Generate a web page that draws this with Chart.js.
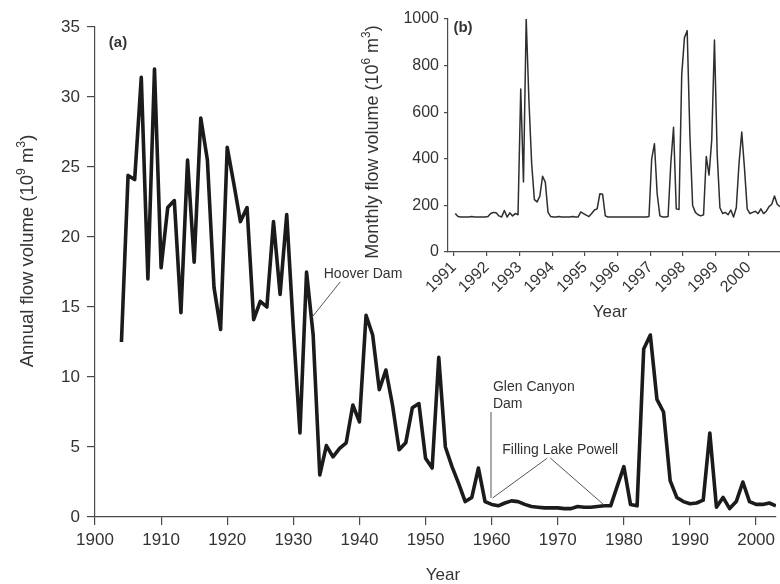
<!DOCTYPE html>
<html>
<head>
<meta charset="utf-8">
<script src="https://cdn.jsdelivr.net/npm/chart.js@4.4.1/dist/chart.umd.min.js"></script>
<style>
  html, body { margin: 0; padding: 0; background: #fff; }
  #wrap { position: relative; width: 780px; height: 584px; }
  #main { position: absolute; left: 0; top: 0; }
  #inset { position: absolute; left: 340px; top: 0; }
</style>
</head>
<body>
<div id="wrap">
  <canvas id="main" width="780" height="584"></canvas>
  <canvas id="inset" width="440" height="330"></canvas>
</div>
<script>
// (a) annual flow volume, 10^9 m^3, one value per year from FIRST_YEAR
const FIRST_YEAR = 1904;
const ANNUAL_FLOW = [
  12.5, 24.4, 24.1, 31.4, 17.0, 32.0, 17.8, 22.1, 22.6, 14.6,   // 1904-1913
  25.5, 18.2, 28.5, 25.5, 16.4, 13.4, 26.4, 23.8, 21.1, 22.1,   // 1914-1923
  14.1, 15.4, 15.0, 21.1, 15.9, 21.6, 13.5, 6.0, 17.5, 13.0,    // 1924-1933
  3.0, 5.1, 4.3, 4.9, 5.3, 8.0, 6.8, 14.4, 13.0, 9.1,           // 1934-1943
  10.5, 8.0, 4.8, 5.3, 7.8, 8.1, 4.2, 3.5, 11.4, 5.0,           // 1944-1953
  3.6, 2.4, 1.1, 1.4, 3.5, 1.1, 0.9, 0.8, 1.0, 1.15,            // 1954-1963
  1.1, 0.9, 0.75, 0.7, 0.65, 0.65, 0.65, 0.6, 0.6, 0.75,        // 1964-1973
  0.7, 0.7, 0.75, 0.8, 0.8, 2.2, 3.6, 0.9, 0.8, 12.0,           // 1974-1983
  13.0, 8.4, 7.5, 2.6, 1.4, 1.1, 0.95, 1.0, 1.2, 6.0,           // 1984-1993
  0.7, 1.4, 0.6, 1.1, 2.5, 1.1, 0.9, 0.9, 1.0, 0.8              // 1994-2003
];
const MAIN_X_TICKS = [1900, 1910, 1920, 1930, 1940, 1950, 1960, 1970, 1980, 1990, 2000];
const MAIN_Y_TICKS = [0, 5, 10, 15, 20, 25, 30, 35];

// (b) monthly flow volume, 10^6 m^3, Jan..Dec
const MONTHLY_1991 = [165, 152, 150, 150, 150, 150, 152, 150, 150, 150, 150, 150];
const MONTHLY_1992 = [152, 165, 170, 168, 155, 150, 178, 150, 168, 155, 165, 160];
const MONTHLY_1993 = [700, 300, 1000, 650, 380, 225, 215, 240, 325, 300, 170, 152];
const MONTHLY_1994 = [150, 150, 152, 150, 150, 150, 150, 152, 150, 150, 172, 165];
const MONTHLY_1995 = [158, 152, 165, 180, 185, 250, 248, 155, 150, 150, 150, 150];
const MONTHLY_1996 = [150, 150, 150, 150, 150, 150, 150, 150, 150, 150, 150, 152];
const MONTHLY_1997 = [400, 465, 250, 155, 150, 150, 152, 380, 535, 185, 182, 760];
const MONTHLY_1998 = [920, 950, 500, 200, 170, 160, 155, 160, 410, 330, 480, 910];
const MONTHLY_1999 = [420, 190, 165, 170, 160, 180, 150, 190, 380, 515, 360, 185];
const MONTHLY_2000 = [165, 170, 175, 165, 185, 165, 175, 195, 205, 240, 205, 195];
const MONTHLY_YEARS = [1991, 1992, 1993, 1994, 1995, 1996, 1997, 1998, 1999, 2000];
const MONTHLY_ROWS = [MONTHLY_1991, MONTHLY_1992, MONTHLY_1993, MONTHLY_1994, MONTHLY_1995,
  MONTHLY_1996, MONTHLY_1997, MONTHLY_1998, MONTHLY_1999, MONTHLY_2000];
const INSET_X_TICKS = [1991, 1992, 1993, 1994, 1995, 1996, 1997, 1998, 1999, 2000];
const INSET_Y_TICKS = [0, 200, 400, 600, 800, 1000];

const FONT = '"Liberation Sans", Arial, Helvetica, sans-serif';
const TEXT_COLOR = '#333';
const AXIS_COLOR = '#4a4a4a';

// text with superscripts, centred on (x, y), optionally rotated
function drawRich(ctx, parts, x, y, size, angle) {
  const supSize = size * 0.66;
  ctx.save();
  ctx.translate(x, y);
  ctx.rotate(angle);
  ctx.fillStyle = TEXT_COLOR;
  ctx.textAlign = 'left';
  ctx.textBaseline = 'alphabetic';
  let total = 0;
  const widths = parts.map((p) => {
    ctx.font = `${p.sup ? supSize : size}px ${FONT}`;
    const w = ctx.measureText(p.text).width;
    total += w;
    return w;
  });
  let cx = -total / 2;
  parts.forEach((p, i) => {
    ctx.font = `${p.sup ? supSize : size}px ${FONT}`;
    ctx.fillText(p.text, cx, p.sup ? size * 0.35 - size * 0.45 : size * 0.35);
    cx += widths[i];
  });
  ctx.restore();
}

function drawText(ctx, text, x, y, font, align = 'left') {
  ctx.save();
  ctx.font = font;
  ctx.fillStyle = TEXT_COLOR;
  ctx.textAlign = align;
  ctx.textBaseline = 'middle';
  ctx.fillText(text, x, y);
  ctx.restore();
}

function fixedTicks(list) {
  return (scale) => { scale.ticks = list.map((v) => ({ value: v })); };
}

function axis(opts) {
  return {
    type: 'linear',
    min: opts.min,
    max: opts.max,
    afterBuildTicks: fixedTicks(opts.ticks),
    afterFit: opts.fit,
    ticks: {
      color: TEXT_COLOR,
      font: { family: FONT, size: opts.fontSize },
      padding: opts.padding,
      autoSkip: false,
      maxRotation: opts.rotation || 0,
      minRotation: opts.rotation || 0,
      callback: (v) => String(v),
    },
    grid: { drawOnChartArea: false, drawTicks: true, tickLength: opts.tickLength, color: AXIS_COLOR, lineWidth: 1.2 },
    border: { display: true, color: AXIS_COLOR, width: 1.2 },
  };
}

// annotation anchors, in data units of panel (a)
const NOTES = {
  hoover: { text: [1934.6, 17.35], from: [1937.1, 16.8], to: [1932.8, 14.25] },
  glen: { text: [1960.2, 9.3], line2: 8.07, top: 7.5, bottom: 1.36, year: 1959.9 },
  powell: { text: [1961.6, 4.8], apexL: [1968.4, 4.2], apexR: [1968.9, 4.2], left: [1960.15, 1.36], right: [1977.0, 0.86] },
};

const mainDecor = {
  id: 'mainDecor',
  afterDraw(chart) {
    const ctx = chart.ctx;
    const xs = chart.scales.x, ys = chart.scales.y;
    const px = (v) => xs.getPixelForValue(v);
    const py = (v) => ys.getPixelForValue(v);

    drawRich(ctx, [
      { text: 'Annual flow volume (10' }, { text: '9', sup: true },
      { text: ' m' }, { text: '3', sup: true }, { text: ')' },
    ], 27, 251, 18.5, -Math.PI / 2);
    drawText(ctx, 'Year', 443, 575, `17px ${FONT}`, 'center');
    drawText(ctx, '(a)', 118, 43, `bold 15px ${FONT}`, 'center');

    const line = (a, b) => {
      ctx.beginPath();
      ctx.moveTo(px(a[0]), py(a[1]));
      ctx.lineTo(px(b[0]), py(b[1]));
      ctx.stroke();
    };
    ctx.save();
    ctx.strokeStyle = '#555';
    ctx.lineWidth = 1;
    const h = NOTES.hoover;
    drawText(ctx, 'Hoover Dam', px(h.text[0]), py(h.text[1]), `14px ${FONT}`);
    line(h.from, h.to);

    const g = NOTES.glen;
    drawText(ctx, 'Glen Canyon', px(g.text[0]), py(g.text[1]), `14px ${FONT}`);
    drawText(ctx, 'Dam', px(g.text[0]), py(g.line2), `14px ${FONT}`);
    line([g.year, g.top], [g.year, g.bottom]);

    const p = NOTES.powell;
    drawText(ctx, 'Filling Lake Powell', px(p.text[0]), py(p.text[1]), `14px ${FONT}`);
    line(p.apexL, p.left);
    line(p.apexR, p.right);
    ctx.restore();
  },
};

const insetDecor = {
  id: 'insetDecor',
  afterDraw(chart) {
    const ctx = chart.ctx;
    drawRich(ctx, [
      { text: 'Monthly flow volume (10' }, { text: '6', sup: true },
      { text: ' m' }, { text: '3', sup: true }, { text: ')' },
    ], 32, 142, 18, -Math.PI / 2);
    drawText(ctx, 'Year', 270, 312, `17px ${FONT}`, 'center');
    drawText(ctx, '(b)', 123, 28, `bold 15px ${FONT}`, 'center');
  },
};

new Chart(document.getElementById('main'), {
  type: 'line',
  data: {
    datasets: [{
      data: ANNUAL_FLOW.map((v, i) => ({ x: FIRST_YEAR + i, y: v })),
      borderColor: '#1b1b1b',
      borderWidth: 3.6,
      borderJoinStyle: 'round',
      borderCapStyle: 'butt',
      pointRadius: 0,
      tension: 0,
      fill: false,
    }],
  },
  options: {
    responsive: false,
    animation: false,
    layout: { padding: { top: 27, right: 0, left: 0, bottom: 0 } },
    plugins: { legend: { display: false }, tooltip: { enabled: false } },
    scales: {
      x: axis({ min: 1900, max: 2003, ticks: MAIN_X_TICKS, fontSize: 17, padding: 5, tickLength: 8,
        fit: (s) => { s.height = 67; } }),
      y: axis({ min: 0, max: 35, ticks: MAIN_Y_TICKS, fontSize: 17, padding: 7, tickLength: 8,
        fit: (s) => { s.width = 95; } }),
    },
  },
  plugins: [mainDecor],
});

const monthlyPoints = [];
MONTHLY_ROWS.forEach((row, r) => {
  row.forEach((v, m) => monthlyPoints.push({ x: MONTHLY_YEARS[r] + (m + 0.5) / 12, y: v }));
});

new Chart(document.getElementById('inset'), {
  type: 'line',
  data: {
    datasets: [{
      data: monthlyPoints,
      borderColor: '#2e2e2e',
      borderWidth: 1.5,
      borderJoinStyle: 'round',
      pointRadius: 0,
      tension: 0,
      fill: false,
    }],
  },
  options: {
    responsive: false,
    animation: false,
    layout: { padding: { top: 19, right: 0, left: 0, bottom: 0 } },
    plugins: { legend: { display: false }, tooltip: { enabled: false } },
    scales: {
      x: axis({ min: 1990.82, max: 2000.96, ticks: INSET_X_TICKS, fontSize: 16, padding: 2, tickLength: 4,
        rotation: 45, fit: (s) => { s.height = 78; } }),
      y: axis({ min: 0, max: 1000, ticks: INSET_Y_TICKS, fontSize: 16, padding: 5, tickLength: 4,
        fit: (s) => { s.width = 108; } }),
    },
  },
  plugins: [insetDecor],
});
</script>
</body>
</html>
